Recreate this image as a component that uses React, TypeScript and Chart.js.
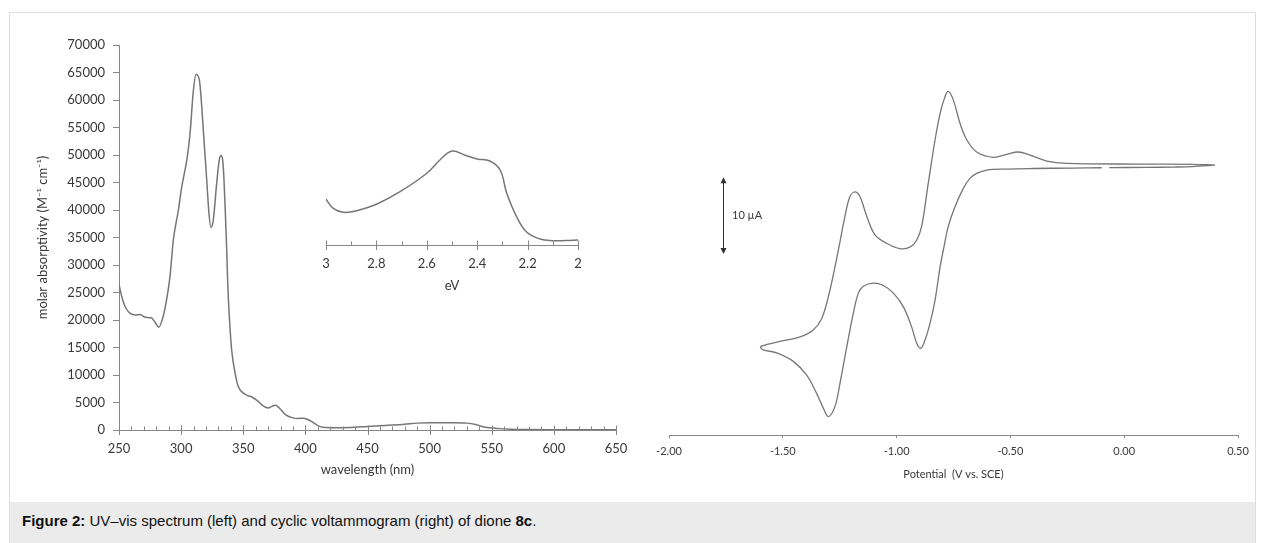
import React, { useEffect, useRef } from "react";
import { Chart, registerables } from "chart.js";

Chart.register(...registerables);

// ---------- UV–vis spectrum (left) ----------
const wavelengths = [
  250, 253, 256, 259, 263, 267, 271, 276, 279, 282, 285, 288, 291, 293.7, 297.8,
  300.5, 305, 307.2, 309.9, 312, 314.7, 316.6, 318.4, 320.6, 322.4, 324, 325.9,
  328.6, 330.7, 332, 333.4, 334.5, 335.6, 336.7, 337.5, 338.8, 340.7, 343.4, 346,
  351.4, 357, 361, 366, 370, 373, 376, 379, 384, 390, 394, 398, 402, 406, 410, 414,
  420, 430, 440, 450, 460, 470, 480, 490, 500, 510, 520, 530, 537, 542, 548, 556,
  565, 580, 600, 620, 650,
];
const absorptivity = [
  26400, 23600, 22000, 21200, 20900, 21000, 20500, 20400, 19600, 18700, 20200,
  23300, 27800, 34500, 40000, 44200, 49700, 54000, 61800, 64700, 63600, 58800,
  52700, 45500, 39400, 36800, 38200, 44800, 49100, 49900, 49100, 45500, 39400,
  32700, 26700, 20600, 14500, 10400, 7900, 6500, 6000, 5400, 4400, 4000, 4300,
  4500, 4000, 2800, 2200, 2100, 2150, 1900, 1400, 800, 500, 420, 420, 500, 650,
  780, 900, 1050, 1250, 1300, 1300, 1300, 1250, 1000, 650, 400, 250, 150, 80, 50,
  40, 30,
];
const wavelengthRange = [250, 650];
const absorptivityRange = [0, 70000];

// ---------- inset (eV) ----------
const insetEnergy = [
  3.0, 2.971, 2.931, 2.878, 2.8, 2.706, 2.6, 2.548, 2.5, 2.45, 2.4, 2.35, 2.309,
  2.283, 2.243, 2.204, 2.151, 2.1, 2.05, 2.0,
];
const insetAbsorptivity = [
  640, 514, 458, 480, 570, 746, 1004, 1190, 1316, 1260, 1204, 1176, 1050, 728,
  392, 182, 84, 60, 63, 70,
];
const insetEnergyRange = [2, 3];
const insetAbsorptivityRange = [0, 1400];

// ---------- cyclic voltammogram (right) ----------
const cvPotential = [
  0.399, 0.3, 0.216, 0.1, -0.066, -0.083, -0.099, -0.224, -0.4, -0.516, -0.604,
  -0.648, -0.678, -0.707, -0.743, -0.773, -0.792, -0.809, -0.831, -0.853, -0.875,
  -0.894, -0.912, -0.934, -0.97, -1.014, -1.058, -1.102, -1.146, -1.168, -1.19,
  -1.219, -1.249, -1.271, -1.3, -1.322, -1.351, -1.395, -1.454, -1.527, -1.586,
  -1.598,
  -1.593, -1.512, -1.424, -1.366, -1.329, -1.3, -1.271, -1.25, -1.227, -1.205,
  -1.183, -1.161, -1.131, -1.095, -1.044, -0.985, -0.941, -0.912, -0.89, -0.861,
  -0.831, -0.809, -0.792, -0.774, -0.751, -0.721, -0.692, -0.648, -0.575, -0.516,
  -0.465, -0.414, -0.34, -0.253, 0.069, 0.3, 0.399,
];
const cvCurrent = [
  0, -0.2, -0.26, -0.3, -0.33, null, -0.35, -0.39, -0.45, -0.52, -0.65, -1.08,
  -1.73, -3.04, -5.4, -8.0, -10.7, -13.3, -17.6, -20.6, -22.8, -23.9, -23.2,
  -21.1, -18.5, -16.7, -15.7, -15.4, -15.8, -16.7, -19.3, -23.7, -28.5, -31.5,
  -32.8, -31.7, -29.8, -27.4, -25.6, -24.5, -24.1, -23.8,
  -23.6, -23.0, -22.4, -21.5, -20.0, -17.2, -13.3, -10.2, -6.7, -4.1, -3.5, -4.1,
  -6.7, -9.1, -10.2, -10.9, -10.7, -9.8, -8.0, -2.4, 3.3, 6.7, 8.5, 9.6, 8.5, 5.4,
  3.3, 1.7, 1.0, 1.4, 1.7, 1.3, 0.52, 0.22, 0.13, 0.1, 0,
];
const potentialRange = [-2, 0.5];
const currentRange = [-35.2, 13.7];
const scaleBarPotential = -1.764;
const scaleBarCurrent = [-11.6, -1.6];
const scaleBarLabel = "10 \u00B5A";

// ---------- styling ----------
const FONT = "Lato, 'Open Sans', sans-serif";
const TEXT = "#383838";
const AXIS = "#868686";
const LINE = "#767676";

function tickMarks(id: string, axisId: string, minor: number, major: number) {
  return {
    id,
    afterDraw(chart: any) {
      const s = chart.scales[axisId];
      const ctx = chart.ctx;
      const y = Math.round(s.top) + 0.5;
      ctx.save();
      ctx.strokeStyle = AXIS;
      ctx.lineWidth = 1;
      ctx.beginPath();
      const lo = Math.min(s.min, s.max);
      const hi = Math.max(s.min, s.max);
      const n = Math.round((hi - lo) / minor);
      for (let i = 0; i <= n; i++) {
        const v = lo + i * minor;
        const r = v / major;
        const isMajor = Math.abs(r - Math.round(r)) < 1e-6;
        const x = Math.round(s.getPixelForValue(v)) + 0.5;
        ctx.moveTo(x, y - (isMajor ? 5 : 4));
        ctx.lineTo(x, y + (isMajor ? 4.5 : 0));
      }
      ctx.stroke();
      ctx.restore();
    },
  };
}

const scaleBarPlugin = {
  id: "scaleBar",
  afterDraw(chart: any) {
    const xs = chart.scales.x;
    const ys = chart.scales.y;
    const ctx = chart.ctx;
    const x = Math.round(xs.getPixelForValue(scaleBarPotential)) + 0.5;
    const yTop = ys.getPixelForValue(scaleBarCurrent[1]);
    const yBot = ys.getPixelForValue(scaleBarCurrent[0]);
    ctx.save();
    ctx.strokeStyle = "#303030";
    ctx.fillStyle = "#303030";
    ctx.lineWidth = 1;
    ctx.beginPath();
    ctx.moveTo(x, yTop + 3);
    ctx.lineTo(x, yBot - 3);
    ctx.stroke();
    ctx.beginPath();
    ctx.moveTo(x, yTop);
    ctx.lineTo(x - 3, yTop + 6);
    ctx.lineTo(x + 3, yTop + 6);
    ctx.closePath();
    ctx.fill();
    ctx.beginPath();
    ctx.moveTo(x, yBot);
    ctx.lineTo(x - 3, yBot - 6);
    ctx.lineTo(x + 3, yBot - 6);
    ctx.closePath();
    ctx.fill();
    ctx.font = `11px ${FONT}`;
    ctx.fillStyle = TEXT;
    ctx.textBaseline = "middle";
    ctx.textAlign = "left";
    ctx.fillText(scaleBarLabel, x + 8.5, (yTop + yBot) / 2);
    ctx.restore();
  },
};

function fmtNum(v: number) {
  return String(Number(Number(v).toFixed(2)));
}

export default function App() {
  const uvRef = useRef<HTMLCanvasElement>(null);
  const insetRef = useRef<HTMLCanvasElement>(null);
  const cvRef = useRef<HTMLCanvasElement>(null);

  useEffect(() => {
    const uv = new Chart(uvRef.current as HTMLCanvasElement, {
      type: "line",
      data: {
        datasets: [
          {
            data: wavelengths.map((w, i) => ({ x: w, y: absorptivity[i] })),
            borderColor: LINE,
            borderWidth: 1.5,
            pointRadius: 0,
            cubicInterpolationMode: "monotone",
            fill: false,
          },
        ],
      },
      options: {
        responsive: false,
        maintainAspectRatio: false,
        animation: false,
        layout: { padding: { left: 0, top: 45, right: 24, bottom: 0 } },
        plugins: { legend: { display: false }, tooltip: { enabled: false } },
        scales: {
          x: {
            type: "linear",
            min: wavelengthRange[0],
            max: wavelengthRange[1],
            afterFit: (s: any) => {
              s.height = 70;
            },
            grid: { drawOnChartArea: false, drawTicks: false },
            border: { display: true, color: AXIS, width: 1 },
            ticks: {
              stepSize: 50,
              padding: 11,
              color: TEXT,
              font: { family: FONT, size: 13 },
              maxRotation: 0,
              callback: (v: any) => fmtNum(v),
            },
            title: {
              display: true,
              text: "wavelength (nm)",
              color: TEXT,
              font: { family: FONT, size: 13 },
              padding: { top: 0, bottom: 22 },
            },
          },
          y: {
            type: "linear",
            min: absorptivityRange[0],
            max: absorptivityRange[1],
            afterFit: (s: any) => {
              s.width = 119;
            },
            grid: { drawOnChartArea: false, drawTicks: true, tickLength: 6, color: AXIS },
            border: { display: true, color: AXIS, width: 1 },
            ticks: {
              stepSize: 5000,
              padding: 8,
              color: TEXT,
              font: { family: FONT, size: 13 },
              callback: (v: any) => String(v),
            },
            title: {
              display: true,
              text: "molar absorptivity (M\u207B\u00B9 cm\u207B\u00B9)",
              color: TEXT,
              font: { family: FONT, size: 13 },
              padding: { top: 35, bottom: 0 },
            },
          },
        },
      },
      plugins: [tickMarks("uvTicks", "x", 10, 50)],
    } as any);

    const inset = new Chart(insetRef.current as HTMLCanvasElement, {
      type: "line",
      data: {
        datasets: [
          {
            data: insetEnergy.map((e, i) => ({ x: e, y: insetAbsorptivity[i] })),
            borderColor: LINE,
            borderWidth: 1.5,
            pointRadius: 0,
            tension: 0.4,
            fill: false,
          },
        ],
      },
      options: {
        responsive: false,
        maintainAspectRatio: false,
        animation: false,
        layout: { padding: { left: 26, top: 45, right: 22, bottom: 0 } },
        plugins: { legend: { display: false }, tooltip: { enabled: false } },
        scales: {
          x: {
            type: "linear",
            reverse: true,
            min: insetEnergyRange[0],
            max: insetEnergyRange[1],
            afterFit: (s: any) => {
              s.height = 55;
            },
            grid: { drawOnChartArea: false, drawTicks: false },
            border: { display: true, color: AXIS, width: 1 },
            ticks: {
              stepSize: 0.2,
              padding: 11,
              color: TEXT,
              font: { family: FONT, size: 13 },
              maxRotation: 0,
              callback: (v: any) => fmtNum(v),
            },
            title: {
              display: true,
              text: "eV",
              color: TEXT,
              font: { family: FONT, size: 13 },
              padding: { top: 0, bottom: 6 },
            },
          },
          y: {
            type: "linear",
            display: false,
            min: insetAbsorptivityRange[0],
            max: insetAbsorptivityRange[1],
          },
        },
      },
      plugins: [tickMarks("insetTicks", "x", 0.1, 0.2)],
    } as any);

    const cv = new Chart(cvRef.current as HTMLCanvasElement, {
      type: "line",
      data: {
        datasets: [
          {
            data: cvPotential.map((p, i) => ({ x: p, y: cvCurrent[i] })),
            borderColor: LINE,
            borderWidth: 1.3,
            pointRadius: 0,
            tension: 0.35,
            spanGaps: false,
            fill: false,
          },
        ],
      },
      options: {
        responsive: false,
        maintainAspectRatio: false,
        animation: false,
        layout: { padding: { left: 29, top: 60, right: 27, bottom: 0 } },
        plugins: { legend: { display: false }, tooltip: { enabled: false } },
        scales: {
          x: {
            type: "linear",
            min: potentialRange[0],
            max: potentialRange[1],
            afterFit: (s: any) => {
              s.height = 65;
            },
            grid: { drawOnChartArea: false, drawTicks: true, tickLength: 3, color: AXIS },
            border: { display: true, color: AXIS, width: 1 },
            ticks: {
              stepSize: 0.5,
              padding: 7,
              color: TEXT,
              font: { family: FONT, size: 11 },
              maxRotation: 0,
              callback: (v: any) => Number(v).toFixed(2),
            },
            title: {
              display: true,
              text: "Potential  (V vs. SCE)",
              color: TEXT,
              font: { family: FONT, size: 11 },
              padding: { top: 0, bottom: 19 },
            },
          },
          y: {
            type: "linear",
            display: false,
            min: currentRange[0],
            max: currentRange[1],
          },
        },
      },
      plugins: [scaleBarPlugin],
    } as any);

    return () => {
      uv.destroy();
      inset.destroy();
      cv.destroy();
    };
  }, []);

  return (
    <div
      style={{
        position: "absolute",
        left: 0,
        top: 0,
        width: 1265,
        height: 543,
        background: "#fff",
        overflow: "hidden",
      }}
    >
      <div
        style={{
          position: "absolute",
          left: 9,
          top: 12,
          width: 1247,
          height: 540,
          border: "1px solid #dedede",
          borderBottom: "none",
          boxSizing: "border-box",
        }}
      />
      <div
        style={{
          position: "absolute",
          left: 10,
          top: 502,
          width: 1245,
          height: 41,
          background: "#ebebeb",
          boxSizing: "border-box",
          paddingLeft: 12,
          paddingTop: 10,
          fontFamily: "'Liberation Sans', Arial, sans-serif",
          fontSize: 15,
          color: "#111",
          whiteSpace: "nowrap",
        }}
      >
        <b>Figure 2:</b> UV–vis spectrum (left) and cyclic voltammogram (right) of dione <b>8c</b>.
      </div>
      <canvas
        ref={uvRef}
        width={640}
        height={500}
        style={{ position: "absolute", left: 0, top: 0, width: 640, height: 500 }}
      />
      <canvas
        ref={insetRef}
        width={300}
        height={200}
        style={{ position: "absolute", left: 300, top: 100, width: 300, height: 200 }}
      />
      <canvas
        ref={cvRef}
        width={625}
        height={500}
        style={{ position: "absolute", left: 640, top: 0, width: 625, height: 500 }}
      />
    </div>
  );
}
